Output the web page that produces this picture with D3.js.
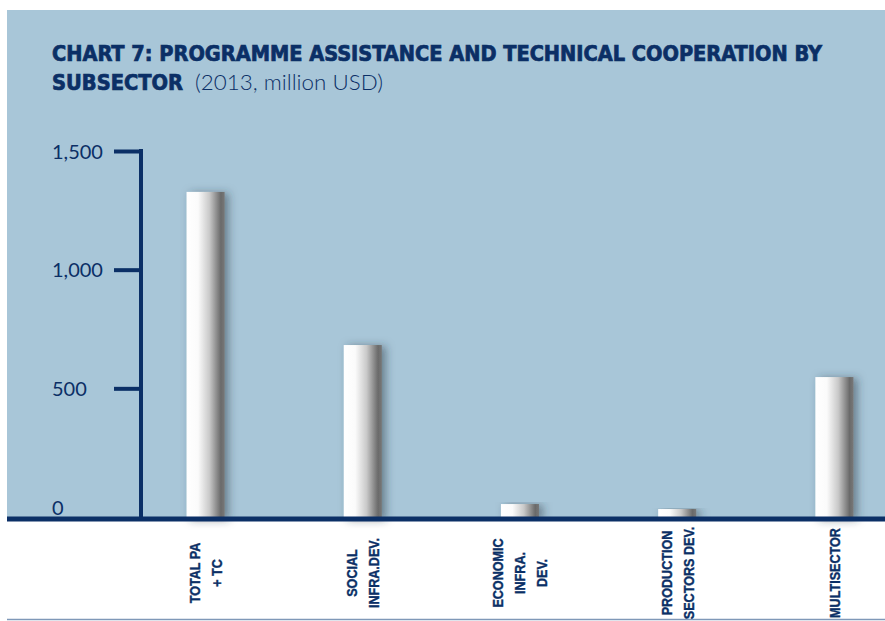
<!DOCTYPE html>
<html>
<head>
<meta charset="utf-8">
<script src="https://cdn.jsdelivr.net/npm/d3@7"></script>
<style>
  html, body { margin: 0; padding: 0; background: #fff; }
  svg { display: block; }
</style>
</head>
<body>
<svg id="chart"></svg>
<script>
// data (2013, million USD)
const categories = ["Total PA + TC", "Social infra. dev.", "Economic infra. dev.", "Production sectors dev.", "Multisector"];
const labelLines = [["TOTAL PA", "+ TC"], ["SOCIAL", "INFRA.DEV."], ["ECONOMIC", "INFRA.", "DEV."], ["PRODUCTION", "SECTORS DEV."], ["MULTISECTOR"]];
const values = [1378, 733, 63, 42, 598];
const yTicks = [0, 500, 1000, 1500];

const width = 885, height = 621;
const navy = "#0b2f66";
const panelBlue = "#a8c6d8";

const svg = d3.select("#chart")
  .attr("width", width)
  .attr("height", height)
  .style("font-family", "Lato, 'Open Sans', sans-serif");

const defs = svg.append("defs");

// white -> grey shading across each bar
const grad = defs.append("linearGradient")
  .attr("id", "barGrad")
  .attr("x1", "0%").attr("y1", "0%")
  .attr("x2", "100%").attr("y2", "0%");
grad.append("stop").attr("offset", "0%").attr("stop-color", "#ffffff");
grad.append("stop").attr("offset", "30%").attr("stop-color", "#fbfbfb");
grad.append("stop").attr("offset", "60%").attr("stop-color", "#c9c9c9");
grad.append("stop").attr("offset", "90%").attr("stop-color", "#6a6a6a");
grad.append("stop").attr("offset", "100%").attr("stop-color", "#777777");

const shadow = defs.append("filter")
  .attr("id", "shadow")
  .attr("x", "-50%").attr("y", "-10%")
  .attr("width", "200%").attr("height", "120%");
shadow.append("feDropShadow")
  .attr("dx", 4).attr("dy", 1)
  .attr("stdDeviation", 4.5)
  .attr("flood-color", "#25343f")
  .attr("flood-opacity", 0.5);

// blue panel
const panel = { left: 7, top: 10 };

const x = d3.scaleBand()
  .domain(categories)
  .range([127, 913])
  .paddingInner(0.758)
  .paddingOuter(0.379);

const y = d3.scaleLinear()
  .domain([0, 1500])
  .range([507, 151]);

// the baseline sits a little under the zero tick, bars grow from it
const baseY = y(0) + 12;
const axisX = 141;

svg.append("rect")
  .attr("x", panel.left)
  .attr("y", panel.top)
  .attr("width", width - panel.left)
  .attr("height", baseY - panel.top)
  .attr("fill", panelBlue);

// title
const titleFont = "'Liberation Sans Narrow', 'DejaVu Sans Condensed', sans-serif";

svg.append("text")
  .attr("x", 52).attr("y", 61)
  .attr("textLength", 770)
  .attr("lengthAdjust", "spacingAndGlyphs")
  .style("font-family", titleFont)
  .style("font-weight", "bold")
  .style("font-size", "21px")
  .style("fill", navy)
  .style("stroke", navy)
  .style("stroke-width", 0.7)
  .text("CHART 7: PROGRAMME ASSISTANCE AND TECHNICAL COOPERATION BY");

svg.append("text")
  .attr("x", 52).attr("y", 90)
  .attr("textLength", 131)
  .attr("lengthAdjust", "spacingAndGlyphs")
  .style("font-family", titleFont)
  .style("font-weight", "bold")
  .style("font-size", "21px")
  .style("fill", navy)
  .style("stroke", navy)
  .style("stroke-width", 0.7)
  .text("SUBSECTOR");

svg.append("text")
  .attr("x", 195).attr("y", 90)
  .attr("textLength", 188)
  .attr("lengthAdjust", "spacingAndGlyphs")
  .style("font-weight", 300)
  .style("font-size", "21px")
  .style("fill", navy)
  .text("(2013, million USD)");

// bars
svg.append("g")
  .selectAll("rect")
  .data(categories)
  .enter().append("rect")
  .attr("x", d => x(d))
  .attr("y", (d, i) => baseY - (y(0) - y(values[i])))
  .attr("width", x.bandwidth())
  .attr("height", (d, i) => y(0) - y(values[i]))
  .attr("fill", "url(#barGrad)")
  .attr("filter", "url(#shadow)");

// y axis
const yAxis = svg.append("g")
  .attr("transform", `translate(${axisX},0)`)
  .call(d3.axisLeft(y).tickValues(yTicks).tickSize(27).tickSizeOuter(0).tickFormat(d3.format(",")));

yAxis.select(".domain").remove();
yAxis.append("line")
  .attr("x1", 0).attr("x2", 0)
  .attr("y1", y(1500) - 2)
  .attr("y2", baseY)
  .attr("stroke", navy)
  .attr("stroke-width", 4);

yAxis.selectAll(".tick line")
  .attr("stroke", navy)
  .attr("stroke-width", 4)
  .attr("x2", -27).attr("x1", 2)
  .style("display", d => d === 0 ? "none" : null);

yAxis.selectAll(".tick text")
  .attr("x", 52 - axisX)
  .attr("dy", "0.36em")
  .attr("text-anchor", "start")
  .style("font-family", "Lato, 'Open Sans', sans-serif")
  .style("font-weight", 400)
  .style("font-size", "20px")
  .style("fill", navy);

// x axis baseline, full width
svg.append("line")
  .attr("x1", panel.left).attr("x2", width)
  .attr("y1", baseY).attr("y2", baseY)
  .attr("stroke", navy)
  .attr("stroke-width", 5);

// thin rule at the bottom
svg.append("line")
  .attr("x1", panel.left).attr("x2", width)
  .attr("y1", 619.5).attr("y2", 619.5)
  .attr("stroke", "#7f98b8")
  .attr("stroke-width", 1.5);

// rotated category labels (wide bold face squeezed along the text)
const lineH = 22;
const labels = svg.append("g")
  .selectAll("g")
  .data(categories)
  .enter().append("g")
  .attr("transform", d => `translate(${x(d) + x.bandwidth() / 2},573) rotate(-90) scale(0.84,1)`);

labels.each(function (d, i) {
  const lines = labelLines[i];
  d3.select(this).selectAll("text")
    .data(lines)
    .enter().append("text")
    .attr("x", 0)
    .attr("y", (t, j) => (j - (lines.length - 1) / 2) * lineH)
    .attr("dy", "0.36em")
    .attr("text-anchor", "middle")
    .style("font-family", "'Liberation Sans', Arial, sans-serif")
    .style("font-weight", "bold")
    .style("font-size", "15px")
    .style("fill", navy)
    .style("stroke", navy)
    .style("stroke-width", 0.4)
    .text(t => t);
});
</script>
</body>
</html>
